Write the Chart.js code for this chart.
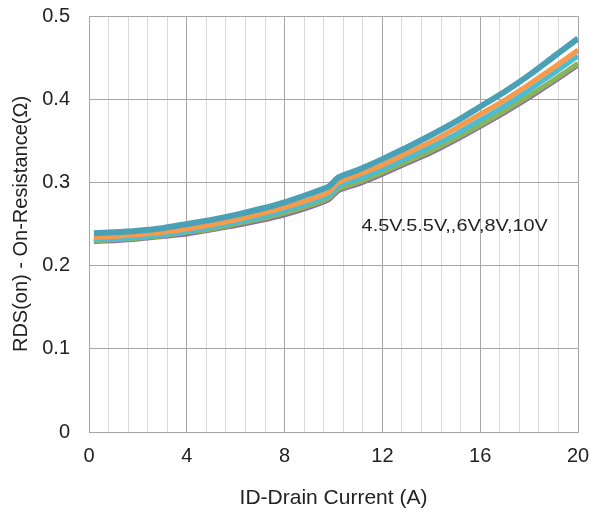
<!DOCTYPE html>
<html>
<head>
<meta charset="utf-8">
<script src="https://cdn.jsdelivr.net/npm/chart.js@4/dist/chart.umd.min.js"></script>
<style>
    html, body { margin: 0; padding: 0; background: #fff; }
    #wrap { width: 591px; height: 516px; }
</style>
</head>
<body>
<div id="wrap"><canvas id="rdsChart" width="591" height="516"></canvas></div>
<script>
// ============================================
// Data
// ============================================
const currents = [0.2, 1, 2, 3, 4, 5, 6, 7, 8, 9, 9.8, 10.2, 11, 12, 13, 14, 15, 16, 17, 18, 19, 20];

const rds45 = [0.239, 0.240, 0.242, 0.245, 0.250, 0.255, 0.261, 0.268, 0.276, 0.286, 0.295,
               0.306, 0.315, 0.328, 0.342, 0.357, 0.373, 0.391, 0.409, 0.429, 0.451, 0.473];
const rds55 = [0.234, 0.235, 0.237, 0.240, 0.244, 0.249, 0.255, 0.262, 0.270, 0.279, 0.288,
               0.300, 0.309, 0.321, 0.335, 0.349, 0.365, 0.382, 0.399, 0.418, 0.438, 0.459];
const rds6 = [0.231, 0.232, 0.234, 0.237, 0.241, 0.246, 0.252, 0.258, 0.266, 0.275, 0.284,
              0.296, 0.304, 0.316, 0.329, 0.343, 0.358, 0.375, 0.392, 0.411, 0.431, 0.452];
const rds8 = [0.230, 0.231, 0.233, 0.236, 0.240, 0.244, 0.250, 0.256, 0.263, 0.272, 0.281,
              0.292, 0.300, 0.312, 0.325, 0.338, 0.353, 0.369, 0.386, 0.404, 0.423, 0.443];
const rds10 = [0.229, 0.230, 0.232, 0.235, 0.238, 0.243, 0.248, 0.254, 0.261, 0.270, 0.279,
               0.290, 0.298, 0.310, 0.323, 0.336, 0.351, 0.367, 0.384, 0.402, 0.421, 0.441];

const seriesLabels = ['4.5V', '5.5V', '6V', '8V', '10V'];
const seriesColors = ['#4aa1b6', '#f79a4c', '#4bbcd2', '#8db35a', '#8a6aaa'];

const annotationText = '4.5V.5.5V,,6V,8V,10V';
const annotationAt = { x: 11.15, y: 0.2475 };

// ============================================
// Helpers
// ============================================
function toPoints(values) {
    return currents.map((c, i) => ({ x: c, y: values[i] }));
}

function isMajor(v) {
    return Math.abs(v / 4 - Math.round(v / 4)) < 1e-6;
}

// Annotation text inside the plot
const annotationPlugin = {
    id: 'annotationText',
    afterDatasetsDraw(chart) {
        const { ctx, scales } = chart;
        const px = scales.x.getPixelForValue(annotationAt.x);
        const py = scales.y.getPixelForValue(annotationAt.y);
        ctx.save();
        ctx.translate(px, py);
        ctx.scale(1.17, 1);
        ctx.font = '17px "Liberation Sans", Arial, sans-serif';
        ctx.fillStyle = '#222';
        ctx.textAlign = 'left';
        ctx.textBaseline = 'middle';
        ctx.fillText(annotationText, 0, 0);
        ctx.restore();
    }
};

// ============================================
// Chart
// ============================================
const allSeries = [rds45, rds55, rds6, rds8, rds10];
const ctx = document.getElementById('rdsChart').getContext('2d');

new Chart(ctx, {
    type: 'line',
    data: {
        datasets: allSeries.map((vals, i) => ({
            label: seriesLabels[i],
            data: toPoints(vals),
            borderColor: seriesColors[i],
            backgroundColor: seriesColors[i],
            borderWidth: i === 0 ? 6 : 5,
            pointRadius: 0,
            tension: 0.2,
            fill: false
        }))
    },
    options: {
        responsive: false,
        animation: false,
        layout: { padding: { left: 5, right: 13, top: 16, bottom: 1 } },
        plugins: {
            legend: { display: false },
            tooltip: { enabled: false }
        },
        scales: {
            x: {
                type: 'linear',
                min: 0,
                max: 20,
                afterFit: s => {
                    s.height = 83;
                    s.paddingLeft = 0;
                    s.paddingRight = 0;
                },
                ticks: {
                    stepSize: 0.8,
                    maxTicksLimit: 40,
                    autoSkip: false,
                    maxRotation: 0,
                    padding: 12,
                    color: '#222',
                    font: { family: '"Liberation Sans", Arial, sans-serif', size: 20 },
                    callback: v => isMajor(v) ? String(Math.round(v)) : ''
                },
                grid: {
                    drawTicks: false,
                    color: c => isMajor(c.tick.value) ? '#a6a6a6' : '#d9d9d9'
                },
                border: { color: '#a6a6a6' },
                title: {
                    display: true,
                    text: 'ID-Drain Current (A)',
                    color: '#222',
                    font: { family: '"Liberation Sans", Arial, sans-serif', size: 21 }
                }
            },
            y: {
                min: 0,
                max: 0.5,
                afterFit: s => {
                    s.width = 84;
                    s.paddingTop = 0;
                    s.paddingBottom = 0;
                },
                ticks: {
                    stepSize: 0.1,
                    padding: 19,
                    color: '#222',
                    font: { family: '"Liberation Sans", Arial, sans-serif', size: 20 }
                },
                grid: { drawTicks: false, color: '#a6a6a6' },
                border: { color: '#a6a6a6' },
                title: {
                    display: true,
                    text: 'RDS(on) - On-Resistance(Ω)',
                    color: '#222',
                    font: { family: '"Liberation Sans", Arial, sans-serif', size: 20 }
                }
            }
        }
    },
    plugins: [annotationPlugin]
});
</script>
</body>
</html>
